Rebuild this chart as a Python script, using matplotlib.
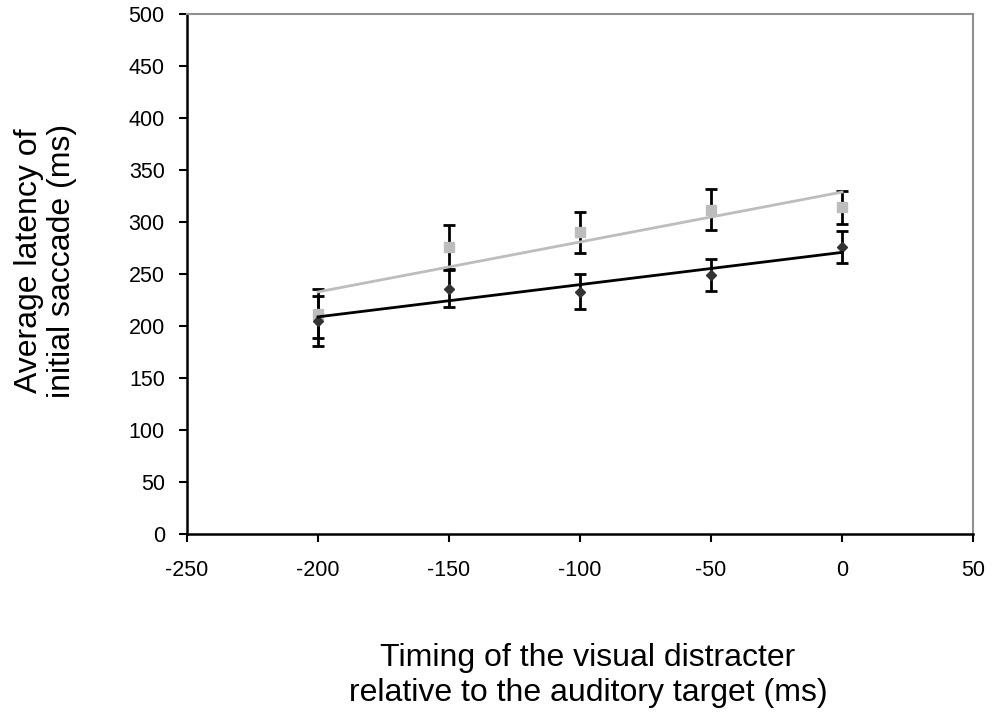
import numpy as np
import matplotlib.pyplot as plt

plt.rcParams["font.family"] = ["Liberation Sans", "DejaVu Sans"]
plt.rcParams["axes.unicode_minus"] = False

timing = [-200, -150, -100, -50, 0]

# Light grey series (squares)
grey_mean = [212, 276, 290, 312, 314]
grey_err = [24, 21, 20, 20, 16]

# Dark series (diamonds)
dark_mean = [205, 236, 233, 249, 276]
dark_err = [24, 18, 17, 15, 15]

fig = plt.figure(figsize=(9.93, 7.17), dpi=100)
ax = fig.add_axes([0.1883, 0.2552, 0.7917, 0.7253])

x = np.array(timing)
for mean, err, color, marker, ms in [
    (grey_mean, grey_err, "#bdbdbd", "s", 7),
    (dark_mean, dark_err, "#333333", "D", 5.5),
]:
    ax.errorbar(x, mean, yerr=err, fmt="none", ecolor="black", elinewidth=2, capsize=4.5, capthick=2, zorder=2)
    ax.plot(x, mean, linestyle="none", marker=marker, markersize=ms, color=color, zorder=3)
    # Linear trend line through each series.
    slope, icpt = np.polyfit(x, mean, 1)
    ax.plot(x[[0, -1]], slope * x[[0, -1]] + icpt, color=color if marker == "s" else "black", linewidth=2, zorder=4)

ax.set_xlim(-250, 50)
ax.set_ylim(0, 500)
ax.set_xticks(range(-250, 51, 50))
ax.set_yticks(range(0, 501, 50))
ax.tick_params(axis="both", labelsize=15.5, direction="out", length=6, width=1.5, colors="black")
ax.tick_params(axis="x", pad=13)
ax.tick_params(axis="y", pad=10)
ax.spines["left"].set_linewidth(1.8)
ax.spines["bottom"].set_linewidth(1.8)
for side in ("top", "right"):
    ax.spines[side].set_color("#909090")
    ax.spines[side].set_linewidth(1.5)

ax.set_ylabel("Average latency of\ninitial saccade (ms)", fontsize=23, linespacing=1.15)
ax.yaxis.set_label_coords(-0.18, 0.525)
ax.yaxis.label.set_va("center")
ax.set_xlabel("Timing of the visual distracter\nrelative to the auditory target (ms)", fontsize=23, linespacing=1.22)
ax.xaxis.set_label_coords(0.51, -0.272)
ax.xaxis.label.set_va("center")

fig.savefig("out.png", dpi=100)
